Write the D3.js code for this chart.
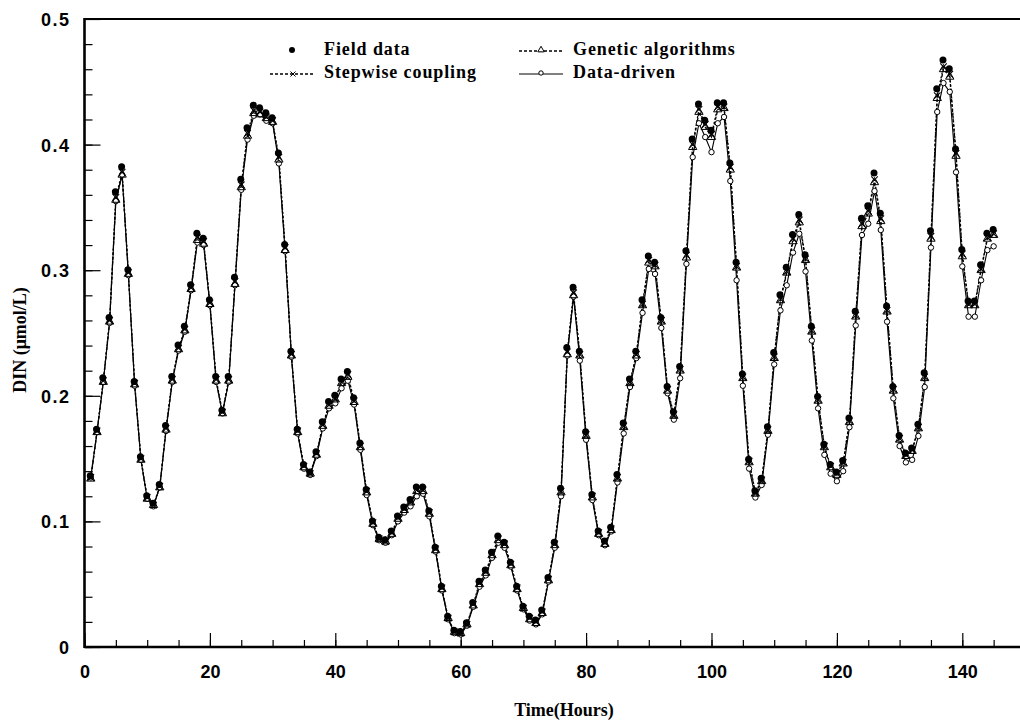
<!DOCTYPE html>
<html>
<head>
<meta charset="utf-8">
<script src="https://cdn.jsdelivr.net/npm/d3@7"></script>
<style>
  body { margin: 0; background: #fff; }
  svg { display: block; }
</style>
</head>
<body>
<script>
var width = 1020,
    height = 727;

// hourly samples, t = 1..145
var hours = d3.range(1, 146);

// Field data (filled dots)
var fieldData = [
  0.136,0.173,0.214,0.262,0.362,0.382,0.300,0.211,0.151,0.120,
  0.114,0.129,0.176,0.215,0.240,0.255,0.288,0.329,0.325,0.276,
  0.215,0.188,0.215,0.294,0.372,0.413,0.431,0.429,0.425,0.421,
  0.393,0.320,0.235,0.173,0.145,0.139,0.155,0.179,0.195,0.200,
  0.213,0.219,0.198,0.162,0.125,0.100,0.087,0.085,0.092,0.104,
  0.111,0.117,0.127,0.127,0.108,0.079,0.048,0.024,0.013,0.012,
  0.019,0.035,0.052,0.061,0.075,0.088,0.083,0.067,0.048,0.032,
  0.024,0.021,0.029,0.055,0.083,0.126,0.238,0.286,0.235,0.171,
  0.121,0.092,0.084,0.095,0.137,0.178,0.213,0.235,0.276,0.311,
  0.306,0.262,0.207,0.187,0.223,0.315,0.404,0.432,0.419,0.411,
  0.433,0.433,0.385,0.306,0.217,0.149,0.124,0.134,0.175,0.234,
  0.280,0.302,0.328,0.344,0.312,0.255,0.199,0.161,0.145,0.139,
  0.148,0.182,0.267,0.341,0.351,0.377,0.345,0.271,0.207,0.168,
  0.154,0.158,0.177,0.218,0.331,0.444,0.467,0.460,0.396,0.316,
  0.275,0.275,0.304,0.329,0.332];

// Stepwise coupling (dashed, x markers)
var stepwise = [
  0.135,0.172,0.212,0.260,0.358,0.378,0.298,0.210,0.150,0.119,
  0.113,0.128,0.174,0.213,0.238,0.253,0.286,0.326,0.323,0.274,
  0.213,0.187,0.213,0.291,0.368,0.409,0.427,0.426,0.422,0.419,
  0.390,0.318,0.233,0.172,0.144,0.138,0.154,0.177,0.193,0.198,
  0.211,0.217,0.196,0.160,0.124,0.099,0.086,0.084,0.091,0.103,
  0.110,0.116,0.125,0.125,0.107,0.078,0.047,0.023,0.012,0.011,
  0.018,0.034,0.051,0.060,0.074,0.086,0.082,0.066,0.047,0.031,
  0.023,0.020,0.028,0.054,0.082,0.124,0.235,0.282,0.233,0.169,
  0.120,0.091,0.083,0.094,0.135,0.176,0.211,0.233,0.273,0.308,
  0.304,0.260,0.205,0.185,0.221,0.312,0.400,0.428,0.416,0.408,
  0.430,0.430,0.382,0.303,0.215,0.148,0.123,0.133,0.173,0.231,
  0.277,0.299,0.325,0.340,0.309,0.252,0.197,0.160,0.144,0.138,
  0.147,0.180,0.264,0.337,0.347,0.372,0.341,0.268,0.205,0.166,
  0.153,0.157,0.175,0.215,0.327,0.439,0.462,0.456,0.393,0.313,
  0.273,0.273,0.301,0.326,0.329];

// Genetic algorithms (dashed, open triangles)
var genetic = [
  0.134,0.171,0.211,0.259,0.356,0.376,0.297,0.209,0.149,0.118,
  0.113,0.127,0.173,0.212,0.237,0.252,0.285,0.324,0.321,0.273,
  0.212,0.186,0.212,0.289,0.366,0.407,0.425,0.424,0.421,0.418,
  0.388,0.316,0.232,0.171,0.143,0.138,0.153,0.176,0.192,0.197,
  0.210,0.215,0.195,0.159,0.123,0.098,0.086,0.084,0.090,0.102,
  0.109,0.115,0.124,0.124,0.106,0.077,0.046,0.023,0.012,0.011,
  0.018,0.033,0.050,0.059,0.073,0.085,0.081,0.065,0.046,0.031,
  0.022,0.019,0.027,0.053,0.081,0.123,0.233,0.280,0.232,0.168,
  0.119,0.090,0.082,0.093,0.134,0.175,0.210,0.232,0.272,0.306,
  0.303,0.259,0.204,0.184,0.220,0.310,0.398,0.426,0.414,0.406,
  0.428,0.429,0.380,0.302,0.214,0.147,0.122,0.132,0.172,0.230,
  0.276,0.298,0.323,0.338,0.308,0.251,0.196,0.159,0.143,0.137,
  0.146,0.179,0.263,0.335,0.345,0.370,0.339,0.267,0.204,0.165,
  0.152,0.156,0.174,0.214,0.325,0.437,0.460,0.454,0.391,0.311,
  0.272,0.272,0.300,0.325,0.328];

// Data-driven (solid, open circles)
var dataDriven = [
  0.135,0.171,0.211,0.258,0.355,0.376,0.296,0.208,0.149,0.118,
  0.112,0.127,0.172,0.211,0.236,0.251,0.284,0.322,0.320,0.272,
  0.211,0.186,0.211,0.288,0.364,0.404,0.423,0.424,0.419,0.417,
  0.385,0.315,0.231,0.170,0.142,0.137,0.152,0.174,0.190,0.194,
  0.206,0.212,0.193,0.157,0.121,0.097,0.085,0.083,0.089,0.100,
  0.107,0.112,0.120,0.122,0.104,0.076,0.045,0.022,0.011,0.010,
  0.017,0.032,0.048,0.057,0.071,0.083,0.079,0.064,0.045,0.030,
  0.021,0.018,0.026,0.052,0.079,0.120,0.232,0.279,0.228,0.165,
  0.117,0.089,0.081,0.092,0.131,0.170,0.207,0.230,0.266,0.301,
  0.297,0.254,0.202,0.181,0.214,0.305,0.390,0.417,0.406,0.394,
  0.417,0.422,0.371,0.292,0.208,0.142,0.119,0.129,0.169,0.225,
  0.268,0.288,0.314,0.329,0.299,0.244,0.190,0.153,0.138,0.132,
  0.140,0.175,0.256,0.328,0.337,0.363,0.332,0.259,0.198,0.160,
  0.147,0.149,0.168,0.207,0.318,0.426,0.449,0.442,0.378,0.303,
  0.263,0.263,0.292,0.316,0.319];

var xMajor = [0, 20, 40, 60, 80, 100, 120, 140];
var yMajor = [0, 0.1, 0.2, 0.3, 0.4, 0.5];

var tickFont = "'Liberation Sans', Arial, sans-serif";
var textFont = "'Liberation Serif', 'Times New Roman', serif";

var svg = d3.select("body").append("svg")
    .attr("width", width)
    .attr("height", height);

// scales (right part of the frame runs past the picture edge)
var x = d3.scaleLinear().domain([0, 150]).range([84.5, 1025]);
var y = d3.scaleLinear().domain([0, 0.5]).range([647, 19]);

function pts(vals) {
  return vals.map(function(v, i) { return [hours[i], v]; });
}

// --- axes ---
var xAxis = svg.append("g")
    .attr("transform", "translate(0," + y(0) + ")")
    .call(d3.axisBottom(x).tickValues(xMajor).tickSize(-14).tickPadding(18).tickFormat(d3.format("d")));
svg.append("g")
    .attr("transform", "translate(0," + y(0) + ")")
    .call(d3.axisBottom(x).tickValues(d3.range(0, 150, 5)).tickSize(-7).tickFormat(""));

var yAxis = svg.append("g")
    .attr("transform", "translate(" + x(0) + ",0)")
    .call(d3.axisLeft(y).tickValues(yMajor).tickSize(-16).tickPadding(14)
      .tickFormat(function(d) { return d === 0 ? "0" : d3.format(".1f")(d); }));
svg.append("g")
    .attr("transform", "translate(" + x(0) + ",0)")
    .call(d3.axisLeft(y).tickValues(d3.range(0, 0.5, 0.02)).tickSize(-8).tickFormat(""));

svg.selectAll(".domain").remove();
svg.selectAll(".tick line").attr("stroke", "#000").attr("stroke-width", 1.2);

xAxis.selectAll("text")
    .attr("y", 31)
    .attr("dy", 0)
    .style("font-family", tickFont)
    .style("font-weight", "bold")
    .style("font-size", "18px")
    .attr("fill", "#000");

yAxis.selectAll("text")
    .attr("dy", "0.36em")
    .style("font-family", tickFont)
    .style("font-weight", "bold")
    .style("font-size", "18px")
    .style("letter-spacing", "1.5px")
    .attr("fill", "#000");

// frame
svg.append("line").attr("x1", x(0)).attr("x2", x(0)).attr("y1", y(0.5) - 1).attr("y2", y(0) + 1)
    .attr("stroke", "#000").attr("stroke-width", 2.6);
svg.append("line").attr("x1", x(0)).attr("x2", x(150)).attr("y1", y(0)).attr("y2", y(0))
    .attr("stroke", "#000").attr("stroke-width", 2.4);
svg.append("line").attr("x1", x(0)).attr("x2", x(150)).attr("y1", y(0.5)).attr("y2", y(0.5))
    .attr("stroke", "#000").attr("stroke-width", 2.2);

// --- series lines ---
var line = d3.line()
    .x(function(d) { return x(d[0]); })
    .y(function(d) { return y(d[1]); });

svg.append("path").datum(pts(dataDriven))
    .attr("d", line).attr("fill", "none").attr("stroke", "#000").attr("stroke-width", 1.1);
svg.append("path").datum(pts(genetic))
    .attr("d", line).attr("fill", "none").attr("stroke", "#000").attr("stroke-width", 1.3)
    .attr("stroke-dasharray", "3,2");
svg.append("path").datum(pts(stepwise))
    .attr("d", line).attr("fill", "none").attr("stroke", "#000").attr("stroke-width", 1.3)
    .attr("stroke-dasharray", "2,2");

// --- markers ---
var triangle = d3.symbol().type(d3.symbolTriangle).size(30);
var cross = "M-3.3,-3.3L3.3,3.3M-3.3,3.3L3.3,-3.3";

svg.append("g").selectAll("circle")
    .data(pts(dataDriven))
    .enter().append("circle")
    .attr("cx", function(d) { return x(d[0]); })
    .attr("cy", function(d) { return y(d[1]); })
    .attr("r", 2.7)
    .attr("fill", "#fff")
    .attr("stroke", "#000")
    .attr("stroke-width", 1);

svg.append("g").selectAll("path")
    .data(pts(genetic))
    .enter().append("path")
    .attr("d", triangle)
    .attr("transform", function(d) { return "translate(" + x(d[0]) + "," + y(d[1]) + ")"; })
    .attr("fill", "none")
    .attr("stroke", "#000")
    .attr("stroke-width", 1);

svg.append("g").selectAll("path")
    .data(pts(stepwise))
    .enter().append("path")
    .attr("d", cross)
    .attr("transform", function(d) { return "translate(" + x(d[0]) + "," + y(d[1]) + ")"; })
    .attr("fill", "none")
    .attr("stroke", "#000")
    .attr("stroke-width", 1.1);

svg.append("g").selectAll("circle")
    .data(pts(fieldData))
    .enter().append("circle")
    .attr("cx", function(d) { return x(d[0]) - 0.5; })
    .attr("cy", function(d) { return y(d[1]) - 0.5; })
    .attr("r", 3.5)
    .attr("fill", "#000");

// --- legend ---
var legend = svg.append("g");

function legendText(tx, ty, label) {
  legend.append("text")
    .attr("x", tx).attr("y", ty)
    .style("font-family", textFont)
    .style("font-weight", "bold")
    .style("font-size", "18px")
    .style("letter-spacing", "0.9px")
    .text(label);
}

// Field data
legend.append("circle").attr("cx", 292).attr("cy", 50).attr("r", 3).attr("fill", "#000");
legendText(324, 55, "Field data");

// Stepwise coupling
legend.append("line").attr("x1", 270).attr("x2", 314).attr("y1", 74).attr("y2", 74)
    .attr("stroke", "#000").attr("stroke-width", 1.3).attr("stroke-dasharray", "3,2");
legend.append("path").attr("d", "M-2.5,-2.5L2.5,2.5M-2.5,2.5L2.5,-2.5")
    .attr("transform", "translate(293,74)").attr("stroke", "#000").attr("fill", "none");
legendText(324, 78, "Stepwise coupling");

// Genetic algorithms
legend.append("line").attr("x1", 519).attr("x2", 563).attr("y1", 51).attr("y2", 51)
    .attr("stroke", "#000").attr("stroke-width", 1.3).attr("stroke-dasharray", "3,2");
legend.append("path").attr("d", d3.symbol().type(d3.symbolTriangle).size(18))
    .attr("transform", "translate(541,50)").attr("fill", "#fff").attr("stroke", "#000");
legendText(573, 55, "Genetic algorithms");

// Data-driven
legend.append("line").attr("x1", 519).attr("x2", 563).attr("y1", 74).attr("y2", 74)
    .attr("stroke", "#000");
legend.append("circle").attr("cx", 541).attr("cy", 73).attr("r", 2.2)
    .attr("fill", "#fff").attr("stroke", "#000");
legendText(573, 78, "Data-driven");

// --- axis titles ---
svg.append("text")
    .attr("x", 564).attr("y", 716)
    .attr("text-anchor", "middle")
    .style("font-family", textFont)
    .style("font-weight", "bold")
    .style("font-size", "18px")
    .text("Time(Hours)");

svg.append("text")
    .attr("transform", "translate(26,340) rotate(-90)")
    .attr("text-anchor", "middle")
    .style("font-family", textFont)
    .style("font-weight", "bold")
    .style("font-size", "18px")
    .text("DIN (\u03bcmol/L)");
</script>
</body>
</html>
